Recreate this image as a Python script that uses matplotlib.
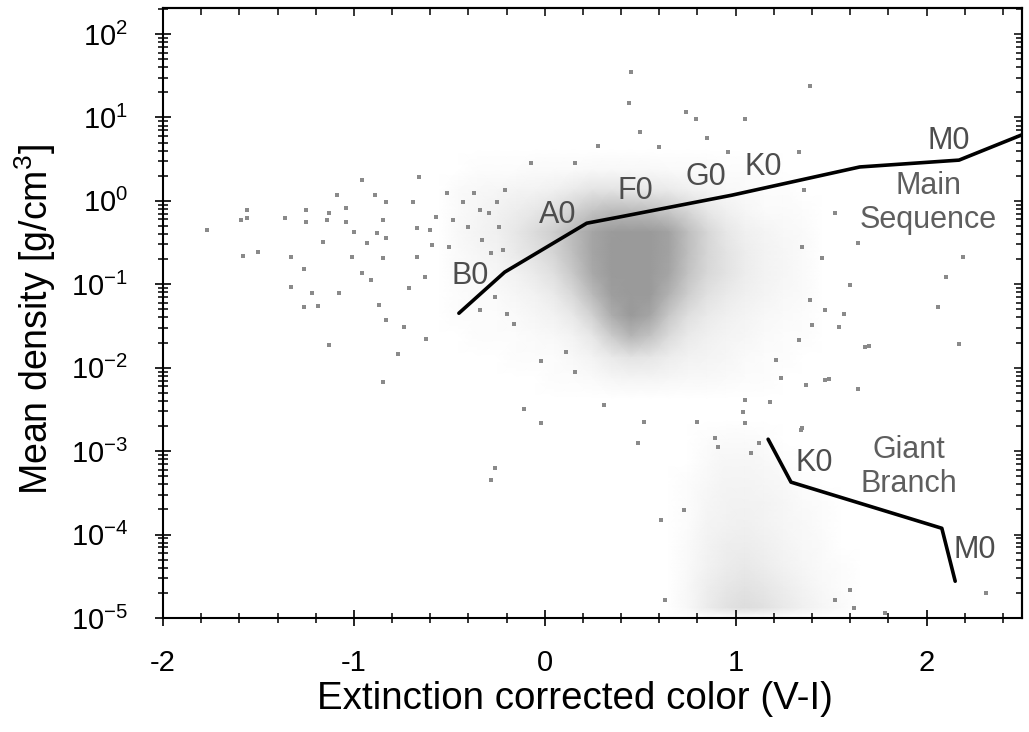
import numpy as np
import matplotlib
matplotlib.use("Agg")
import matplotlib.pyplot as plt
from matplotlib.colors import LinearSegmentedColormap, PowerNorm
from matplotlib.ticker import MultipleLocator, LogLocator, NullFormatter

plt.rcParams['font.family'] = ['Liberation Sans', 'DejaVu Sans']
plt.rcParams['mathtext.fontset'] = 'custom'
plt.rcParams['mathtext.rm'] = 'Liberation Sans'
plt.rcParams['mathtext.it'] = 'Liberation Sans:italic'
plt.rcParams['mathtext.bf'] = 'Liberation Sans:bold'
plt.rcParams['axes.unicode_minus'] = False

# ---------------- data ----------------
# Main-sequence reference line (V-I colour, mean density g/cm^3)
ms_color = [-0.45, -0.21, 0.22, 0.39, 0.98, 1.65, 2.17, 2.50]
ms_density = [0.045, 0.14, 0.54, 0.64, 1.17, 2.55, 3.08, 6.2]

# Giant-branch reference line
gb_color = [1.17, 1.29, 2.08, 2.15]
gb_density = [1.39e-3, 4.25e-4, 1.19e-4, 2.76e-5]

# Spectral-type labels
ms_labels = ["B0", "A0", "F0", "G0", "K0", "M0"]
ms_label_color = [-0.39, 0.07, 0.475, 0.846, 1.144, 2.115]
ms_label_density = [0.125, 0.676, 1.31, 1.93, 2.54, 5.2]

gb_labels = ["K0", "M0"]
gb_label_color = [1.41, 2.25]
gb_label_density = [7.2e-4, 6.5e-5]

# Relative point density of the dense main-sequence star cloud
main_color_bins = [-0.55, -0.45, -0.35, -0.25, -0.15, -0.05, 0.05, 0.15, 0.25, 0.35,
                   0.45, 0.55, 0.65, 0.75, 0.85, 0.95, 1.05, 1.15, 1.25, 1.35, 1.45]
main_logdens_bins = [0.625, 0.375, 0.125, -0.125, -0.375, -0.625, -0.875, -1.125,
                     -1.375, -1.625, -1.875, -2.125, -2.375]
main_rows = [
    [0.00, 0.01, 0.01, 0.01, 0.02, 0.02, 0.02, 0.03, 0.03, 0.03, 0.03, 0.02, 0.02, 0.02, 0.01, 0.01, 0.01, 0.00, 0.00],
    [0.02, 0.03, 0.04, 0.05, 0.06, 0.08, 0.12, 0.18, 0.18, 0.15, 0.14, 0.12, 0.08, 0.05, 0.03, 0.02, 0.01, 0.01, 0.00],
    [0.02, 0.04, 0.07, 0.10, 0.15, 0.22, 0.35, 0.50, 0.60, 0.60, 0.55, 0.45, 0.30, 0.15, 0.08, 0.04, 0.02, 0.02, 0.01],
    [0.03, 0.05, 0.08, 0.15, 0.25, 0.38, 0.60, 0.85, 0.98, 1.00, 1.00, 0.90, 0.55, 0.30, 0.15, 0.08, 0.05, 0.03, 0.02],
    [0.02, 0.04, 0.06, 0.12, 0.20, 0.32, 0.55, 0.85, 1.00, 1.00, 1.00, 0.90, 0.55, 0.30, 0.18, 0.10, 0.06, 0.04, 0.02],
    [0.02, 0.02, 0.04, 0.07, 0.12, 0.22, 0.45, 0.80, 1.00, 1.00, 1.00, 0.85, 0.50, 0.28, 0.18, 0.10, 0.06, 0.04, 0.02],
    [0.01, 0.02, 0.02, 0.04, 0.07, 0.12, 0.28, 0.60, 0.95, 1.00, 1.00, 0.70, 0.38, 0.20, 0.12, 0.08, 0.05, 0.03, 0.02],
    [0.01, 0.01, 0.01, 0.02, 0.04, 0.07, 0.14, 0.35, 0.75, 1.00, 0.85, 0.45, 0.22, 0.12, 0.08, 0.05, 0.03, 0.02, 0.01],
    [0.00, 0.01, 0.01, 0.01, 0.02, 0.03, 0.06, 0.15, 0.40, 0.65, 0.50, 0.25, 0.12, 0.08, 0.05, 0.04, 0.02, 0.01, 0.01],
    [0.00, 0.00, 0.00, 0.01, 0.01, 0.01, 0.03, 0.06, 0.12, 0.18, 0.16, 0.10, 0.07, 0.05, 0.04, 0.02, 0.01, 0.01, 0.00],
    [0.00, 0.00, 0.00, 0.00, 0.00, 0.01, 0.01, 0.02, 0.04, 0.05, 0.05, 0.04, 0.03, 0.03, 0.02, 0.01, 0.01, 0.00, 0.00],
]

# Relative point density of the giant-star cloud
giant_color_bins = [0.65, 0.75, 0.85, 0.95, 1.05, 1.15, 1.25, 1.35, 1.45, 1.55, 1.65]
giant_logdens_bins = [-2.625, -2.875, -3.125, -3.375, -3.625, -3.875, -4.125,
                      -4.375, -4.625, -4.875, -5.0]
giant_rows = [
    [0.00, 0.01, 0.02, 0.02, 0.01, 0.00, 0.00, 0.00, 0.00],
    [0.00, 0.02, 0.04, 0.04, 0.03, 0.01, 0.00, 0.00, 0.00],
    [0.01, 0.03, 0.05, 0.05, 0.04, 0.03, 0.01, 0.00, 0.00],
    [0.01, 0.04, 0.06, 0.07, 0.06, 0.04, 0.02, 0.01, 0.00],
    [0.01, 0.05, 0.07, 0.08, 0.06, 0.04, 0.03, 0.01, 0.00],
    [0.02, 0.06, 0.09, 0.10, 0.08, 0.05, 0.03, 0.02, 0.00],
    [0.02, 0.07, 0.11, 0.13, 0.10, 0.07, 0.04, 0.02, 0.01],
    [0.03, 0.09, 0.15, 0.18, 0.15, 0.10, 0.06, 0.03, 0.01],
    [0.03, 0.11, 0.19, 0.24, 0.20, 0.13, 0.08, 0.04, 0.02],
]

# Individual field stars outside the dense clouds (colour, log10 density)
field_color = [
    -1.77, -1.59, -1.56, -1.56, -1.58, -1.50, -1.36, -1.33, -1.33, -1.26, -1.25, -1.25,
    -1.22, -1.26, -1.19, -1.16, -1.13, -1.14, -1.09, -1.08, -1.04, -1.04, -1.01, -1.00,
    -0.96, -0.96, -0.93, -0.91, -0.89, -0.88, -0.87, -0.85, -0.85, -0.83, -0.83, -0.83,
    -0.74, -0.77, -0.71, -0.69, -0.67, -0.67, -0.66, -0.63, -0.62, -1.13, -0.59, -0.57,
    -0.60, -0.51, -0.50, -0.48, -0.43, -0.40, -0.37, -0.34, -0.33, -0.29, -0.28, -0.25,
    -0.24, -0.22, -0.21, -0.20, -0.16, -0.26, -0.34, -0.85, -0.26, -0.28, -0.11, -0.02,
    -0.02, 0.16, 0.31, 0.11,
    0.45, 0.44, 0.74, 0.79, 1.05, 1.39, 0.50, 0.85, 0.28, 0.60, 0.96, 1.33, -0.07, 0.16,
    2.19, 2.10, 2.06, 2.17, 1.68, 1.60, 1.52, 1.64, 1.36, 1.35, 1.54, 1.39, 1.45, 1.47,
    1.33, 1.21, 1.57, 1.35, 1.49, 1.64, 1.70, 1.37, 1.40, 1.24, 1.18, 1.05, 1.05, 0.91,
    0.89, 1.12, 1.08, 0.52, 0.49, 0.80, 1.04, 1.47, 1.34, 1.60, 2.31, 1.78, 1.52, 1.62,
    0.63, 0.61, 0.73,
]
field_logdens = [
    -0.35, -0.23, -0.11, -0.21, -0.66, -0.61, -0.21, -0.67, -1.03, -0.82, -0.11, -0.25,
    -1.11, -1.27, -1.26, -0.49, -0.15, -0.23, 0.07, -1.11, -0.09, -0.25, -0.67, -0.37,
    0.25, -0.87, -0.51, -0.95, 0.07, -0.39, -1.25, -0.23, -0.69, -0.01, -0.45, -1.43,
    -1.51, -1.83, -1.05, -0.01, -0.33, -0.67, 0.29, -0.91, -1.65, -1.73, -0.53, -0.19,
    -0.35, 0.09, -0.55, -0.23, -0.01, -0.31, 0.09, -0.11, -0.47, -0.15, -0.63, -0.01,
    -0.31, -0.59, 0.13, -1.35, -1.47, -1.15, -1.31, -2.17, -3.20, -3.34, -2.50, -2.66,
    -1.92, -2.05, -2.45, -1.81,
    1.54, 1.17, 1.06, 0.98, 0.98, 1.38, 0.83, 0.75, 0.66, 0.65, 0.59, 0.59, 0.45, 0.45,
    -0.67, -0.91, -1.27, -1.71, -1.75, -1.01, -0.15, -0.51, 0.13, -0.55, -1.51, -1.19,
    -0.69, -1.31, -1.67, -1.91, -1.35, -2.72, -2.14, -2.26, -1.74, -2.21, -1.49, -2.12,
    -2.41, -2.39, -2.66, -2.95, -2.84, -2.90, -3.02, -2.65, -2.90, -2.65, -2.53, -2.15,
    -2.75, -4.67, -4.70, -4.94, -4.79, -4.88, -4.79, -3.83, -3.71,
]

x_ticks = [-2, -1, 0, 1, 2]

# ---------------- figure ----------------
fig = plt.figure(figsize=(10.29, 7.32), dpi=100)
ax = fig.add_axes([163 / 1029, 1 - 618 / 732, (1022 - 163) / 1029, (618 - 8) / 732])

POINT_GRAY = '#9a9a9a'
cmap = LinearSegmentedColormap.from_list('cloud', ['#ffffff', POINT_GRAY])
norm = PowerNorm(gamma=0.75, vmin=0, vmax=1)


def draw_cloud(cbins, lbins, rows):
    z = np.pad(np.array(rows, dtype=float), 1)
    X, Y = np.meshgrid(cbins, 10.0 ** np.array(lbins))
    ax.pcolormesh(X, Y, z, shading='gouraud', cmap=cmap, norm=norm,
                  zorder=1, rasterized=True)


draw_cloud(main_color_bins, main_logdens_bins, main_rows)
draw_cloud(giant_color_bins, giant_logdens_bins, giant_rows)

ax.plot(field_color, 10.0 ** np.array(field_logdens), ls='none', marker='s',
        ms=2.4, mew=0, color='#8a8a8a', zorder=2)

ax.plot(ms_color, ms_density, color='black', lw=2.6, zorder=3,
        solid_joinstyle='round', solid_capstyle='round')
ax.plot(gb_color, gb_density, color='black', lw=2.6, zorder=3,
        solid_joinstyle='round', solid_capstyle='round')

LABEL_COLOR = '#4d4d4d'
LABEL_SIZE = 22
for t, xc, yd in zip(ms_labels, ms_label_color, ms_label_density):
    ax.text(xc, yd, t, fontsize=LABEL_SIZE, color=LABEL_COLOR, ha='center', va='center', zorder=4)
for t, xc, yd in zip(gb_labels, gb_label_color, gb_label_density):
    ax.text(xc, yd, t, fontsize=LABEL_SIZE, color=LABEL_COLOR, ha='center', va='center', zorder=4)

ax.text(2.01, 0.94, "Main\nSequence", fontsize=LABEL_SIZE, color='#5e5e5e',
        ha='center', va='center', linespacing=1.2, zorder=4)
ax.text(1.906, 6.43e-4, "Giant\nBranch", fontsize=LABEL_SIZE, color='#5e5e5e',
        ha='center', va='center', linespacing=1.2, zorder=4)

# axes
ax.set_yscale('log')
ax.set_xlim(-2, 2.5)
ax.set_ylim(1e-5, 10 ** 2.312)

ax.xaxis.set_minor_locator(MultipleLocator(0.2))
ax.set_xticks(x_ticks)
ax.set_xticklabels([str(v) for v in x_ticks])
ax.yaxis.set_major_locator(LogLocator(base=10, numticks=20))
ax.yaxis.set_minor_locator(LogLocator(base=10, subs=np.arange(2, 10), numticks=20))
ax.yaxis.set_minor_formatter(NullFormatter())

ax.tick_params(which='major', direction='inout', length=12, width=1.2,
               labelsize=21, top=False, right=False, color='black')
ax.tick_params(axis='y', which='major', pad=19)
ax.tick_params(axis='x', which='major', pad=16)
ax.tick_params(which='minor', direction='inout', length=7, width=1.1,
               top=False, right=False)

for s in ax.spines.values():
    s.set_linewidth(1.5)

secx = ax.secondary_xaxis('top')
secx.xaxis.set_major_locator(MultipleLocator(1))
secx.xaxis.set_minor_locator(MultipleLocator(0.2))
secx.tick_params(which='major', direction='in', length=6, width=1.1, labeltop=False)
secx.tick_params(which='minor', direction='in', length=5, width=1.1)
secx.spines['top'].set_linewidth(1.5)

secy = ax.secondary_yaxis('right')
secy.yaxis.set_major_locator(LogLocator(base=10, numticks=20))
secy.yaxis.set_minor_locator(LogLocator(base=10, subs=np.arange(2, 10), numticks=20))
secy.yaxis.set_major_formatter(NullFormatter())
secy.yaxis.set_minor_formatter(NullFormatter())
secy.tick_params(which='major', direction='in', length=6, width=1.1, labelright=False)
secy.tick_params(which='minor', direction='in', length=4, width=1.1)
secy.spines['right'].set_linewidth(1.5)

ax.set_xlabel("Extinction corrected color (V-I)", fontsize=27.7)
ax.set_ylabel("Mean density [g/cm$^3$]", fontsize=27)
ax.xaxis.set_label_coords(0.48, -0.103)
ax.yaxis.set_label_coords(-0.122, 0.49)

fig.savefig("out.png", dpi=100)
